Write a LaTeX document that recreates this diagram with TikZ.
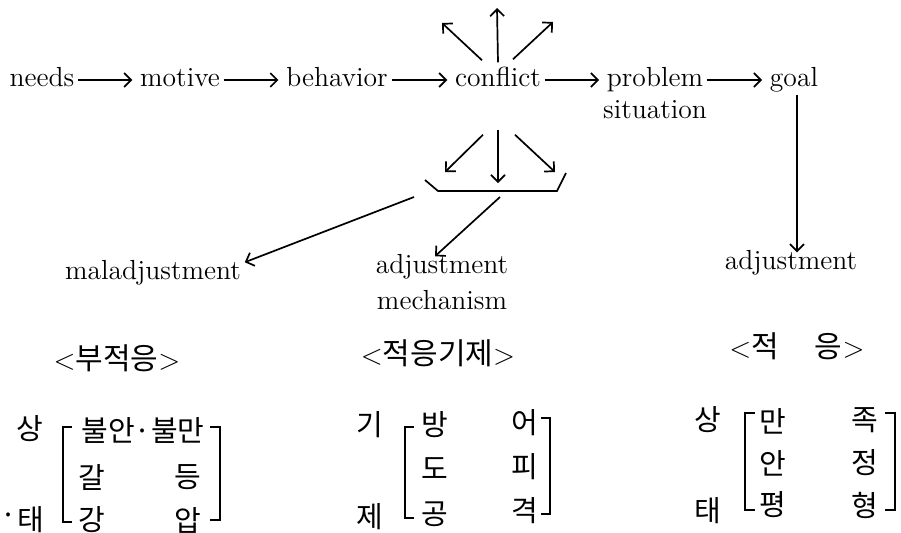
\documentclass[tikz,border=0pt]{standalone}
\usepackage{fontspec}
\newfontfamily\kr{Noto Sans CJK KR}
\usetikzlibrary{arrows.meta, positioning}

\begin{document}
\begin{tikzpicture}[x=0.5pt, y=-0.5pt, >={Straight Barb[length=3.5pt,width=7pt]}, line width=0.85pt,
  word/.style={inner sep=1.5pt, text height=1.6ex, text depth=0pt, font=\fontsize{13.8}{17}\selectfont},
  hangul/.style={inner sep=0pt, font=\kr\fontsize{14.5}{17}\selectfont},
  heading/.style={inner sep=0pt, font=\kr\fontsize{15}{18}\selectfont}]
  \useasboundingbox (0,0) rectangle (901,532);
  % main line
  \node[word] (N) at (42,80) {needs};
  \node[word] (M) at (180,80) {motive};
  \node[word] (B) at (337,80) {behavior};
  \node[word] (C) at (498,80) {conflict};
  \node[word] (P) at (655,80) {problem};
  \node[word, below=5pt of P] (S) {situation};
  \node[word] (G) at (794,80) {goal};
  \draw[->, shorten >=2pt] (N) -- (M);
  \draw[->, shorten >=2pt] (M) -- (B);
  \draw[->, shorten >=2pt] (B) -- (C);
  \draw[->, shorten >=2pt] (C) -- (P);
  \draw[->, shorten >=2pt] (P) -- (G);
  % fan round conflict
  \coordinate (ul) at (442,23);
  \coordinate (uu) at (497,8);
  \coordinate (ur) at (553,22);
  \coordinate (dl) at (445,172);
  \coordinate (dd) at (498,183);
  \coordinate (dr) at (555,172);
  \draw[->] ([xshift=-8pt, yshift=4.5pt]C.north) -- (ul);
  \draw[->] ([yshift=3.5pt]C.north) -- (uu);
  \draw[->] ([xshift=7.5pt, yshift=5pt]C.north) -- (ur);
  \draw[->] ([xshift=-7.5pt, yshift=-22pt]C.south) -- (dl);
  \draw[->] ([yshift=-19.5pt]C.south) -- (dd);
  \draw[->] ([xshift=8.5pt, yshift=-22pt]C.south) -- (dr);
  \draw (425,180) -- (438,191) -- (557,191) -- (566,173);
  % outcomes
  \node[word] (mal) at (153,273) {maladjustment};
  \node[word] (M1) at (442,267) {adjustment};
  \node[word, below=7pt of M1] (M2) {mechanism};
  \node[word] (A) at (791,263) {adjustment};
  \coordinate (mfrom) at (414,197);
  \coordinate (jfrom) at (500,197);
  \draw[->] (mfrom) -- (mal.north east);
  \draw[->] (jfrom) -- ([xshift=-3.5pt]M1.north);
  \draw[->] ([xshift=1.5pt, yshift=-2pt]G.south) -- ([xshift=3pt]A.north);
  % headings
  \node[heading] (h1) at (117,358) {$<$부적응$>$};
  \node[heading] (h2) at (438,353) {$<$적응기제$>$};
  \node[heading] (h3) at (797,346) {$<$적\hspace{1.2em}응$>$};
  % left table
  \node[hangul] (dot) at (9,519) {·};
  \node[hangul] (s1) at (30,429) {상};
  \node[hangul] (t1) at (31,520) {태};
  \node[hangul] (a1) at (143,430) {불안·불만};
  \node[hangul] (a2) at (92,477) {갈};
  \node[hangul] (a3) at (188,477) {등};
  \node[hangul] (a4) at (92,520) {강};
  \node[hangul] (a5) at (188,520) {압};
  \draw (72,427) -- (63,427) -- (63,522) -- (72,522);
  \draw (210,427) -- (220,427) -- (220,520) -- (210,520);
  % middle table
  \node[hangul] (k1) at (370,425) {기};
  \node[hangul] (k2) at (370,517) {제};
  \node[hangul] (b1) at (435,425) {방};
  \node[hangul] (b2) at (435,469) {도};
  \node[hangul] (b3) at (435,514) {공};
  \node[hangul] (b4) at (525,423) {어};
  \node[hangul] (b5) at (525,467) {피};
  \node[hangul] (b6) at (525,511) {격};
  \draw (414,427) -- (405,427) -- (405,518) -- (414,518);
  \draw (541,418) -- (550,418) -- (550,514) -- (541,514);
  % right table
  \node[hangul] (s2) at (708,420) {상};
  \node[hangul] (t2) at (708,511) {태};
  \node[hangul] (c1) at (773,421) {만};
  \node[hangul] (c2) at (773,463) {안};
  \node[hangul] (c3) at (773,505) {평};
  \node[hangul] (c4) at (865,420) {족};
  \node[hangul] (c5) at (865,463) {정};
  \node[hangul] (c6) at (865,505) {형};
  \draw (755,413) -- (745,413) -- (745,510) -- (755,510);
  \draw (885,413) -- (895,413) -- (895,510) -- (885,510);
\end{tikzpicture}
\end{document}
